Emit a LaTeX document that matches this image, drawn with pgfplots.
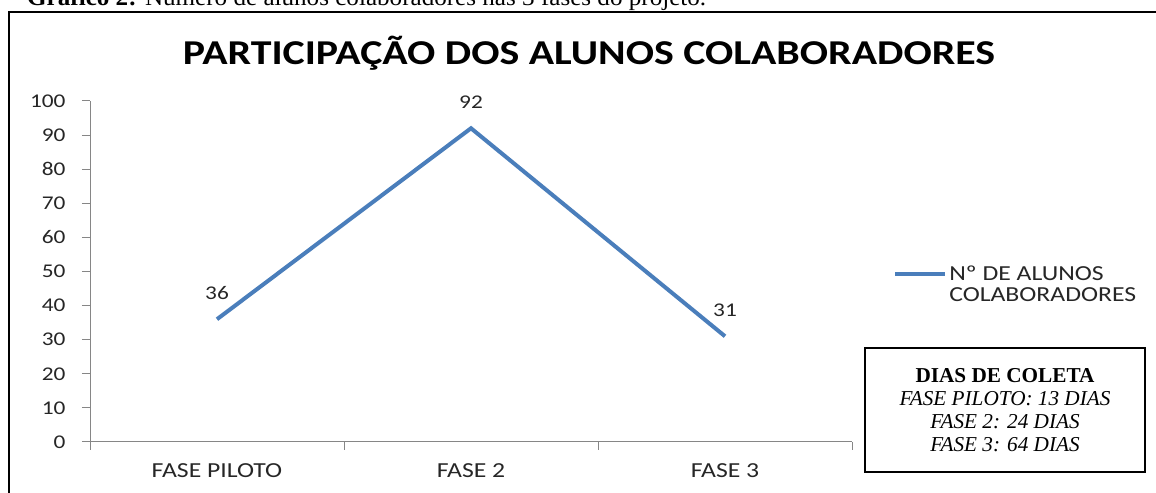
\documentclass[border=0pt]{standalone}
\usepackage{fontspec}
\setmainfont[FakeStretch=1.2]{Carlito}
\newfontfamily\timesfont[FakeStretch=1.05]{Liberation Serif}
\newfontfamily\boxfont{Liberation Serif}
\usepackage{pgfplots}
\pgfplotsset{compat=1.18}
\definecolor{serie}{HTML}{4A7EBB}
\definecolor{eixo}{HTML}{868686}
\definecolor{texto}{HTML}{262626}
\begin{document}
\begin{tikzpicture}[x=1bp,y=1bp]
\useasboundingbox (0,0) rectangle (1156,493);
\clip (0,0) rectangle (1156,493);
% legenda cortada no topo
\node[anchor=base west,inner sep=0,font=\timesfont\fontsize{24}{26}\selectfont] at (27,487)
  {\textbf{Gráfico 2:} Número de alunos colaboradores nas 3 fases do projeto.};
% moldura
\draw[line width=2bp] (9,-5) -- (9,481) -- (1170,481);
% titulo
\node[font=\bfseries\fontsize{35}{36}\selectfont] at (589,440) {PARTICIPAÇÃO DOS ALUNOS COLABORADORES};
\begin{axis}[
  at={(90bp,51bp)}, anchor=south west,
  scale only axis, width=762bp, height=341bp,
  xmin=-0.5, xmax=2.5, ymin=0, ymax=100,
  axis x line*=bottom, axis y line*=left,
  axis line style={eixo, line width=1bp},
  xtick={0,1,2}, xticklabels={FASE PILOTO, FASE 2, FASE 3},
  major x tick style={draw=none},
  minor xtick={-0.5,0.5,1.5,2.5},
  minor x tick style={eixo, line width=1bp},
  minor tick length=8bp,
  ytick={0,10,...,100},
  major tick length=8bp,
  y tick style={eixo, line width=1bp},
  tick align=outside,
  /pgf/number format/assume math mode=true,
  ticklabel style={font=\fontsize{19.5}{20}\selectfont, text=texto},
  x tick label style={font=\fontsize{21.5}{22}\selectfont, yshift=-10bp},
  y tick label style={xshift=-13bp},
  legend style={at={(1.05,0.53)}, anchor=north west, draw=none,
    font=\fontsize{21.5}{23}\selectfont, text=texto, row sep=2bp,
    legend cell align=left},
  legend image code/.code={\draw[#1, line width=4bp] (0bp,0bp) -- (50bp,0bp);},
  nodes near coords,
  every node near coord/.append style={font=\fontsize{19.5}{20}\selectfont, text=texto, anchor=south, yshift=14bp},
]
\addplot[serie, line width=4bp, mark=none] coordinates {(0,36) (1,92) (2,31)};
\addlegendentry{Nº DE ALUNOS}
\addlegendimage{empty legend}
\addlegendentry{COLABORADORES}
\end{axis}
% quadro dias de coleta
\node[draw, line width=1.5bp, minimum width=280bp, minimum height=124bp, align=center,
  font=\boxfont\fontsize{21.3}{23.2}\selectfont, inner sep=0] at (1005,83)
  {\textbf{DIAS DE COLETA}\\ \textit{FASE PILOTO: 13 DIAS}\\ \textit{FASE 2: 24 DIAS}\\ \textit{FASE 3: 64 DIAS}};
\end{tikzpicture}
\end{document}
